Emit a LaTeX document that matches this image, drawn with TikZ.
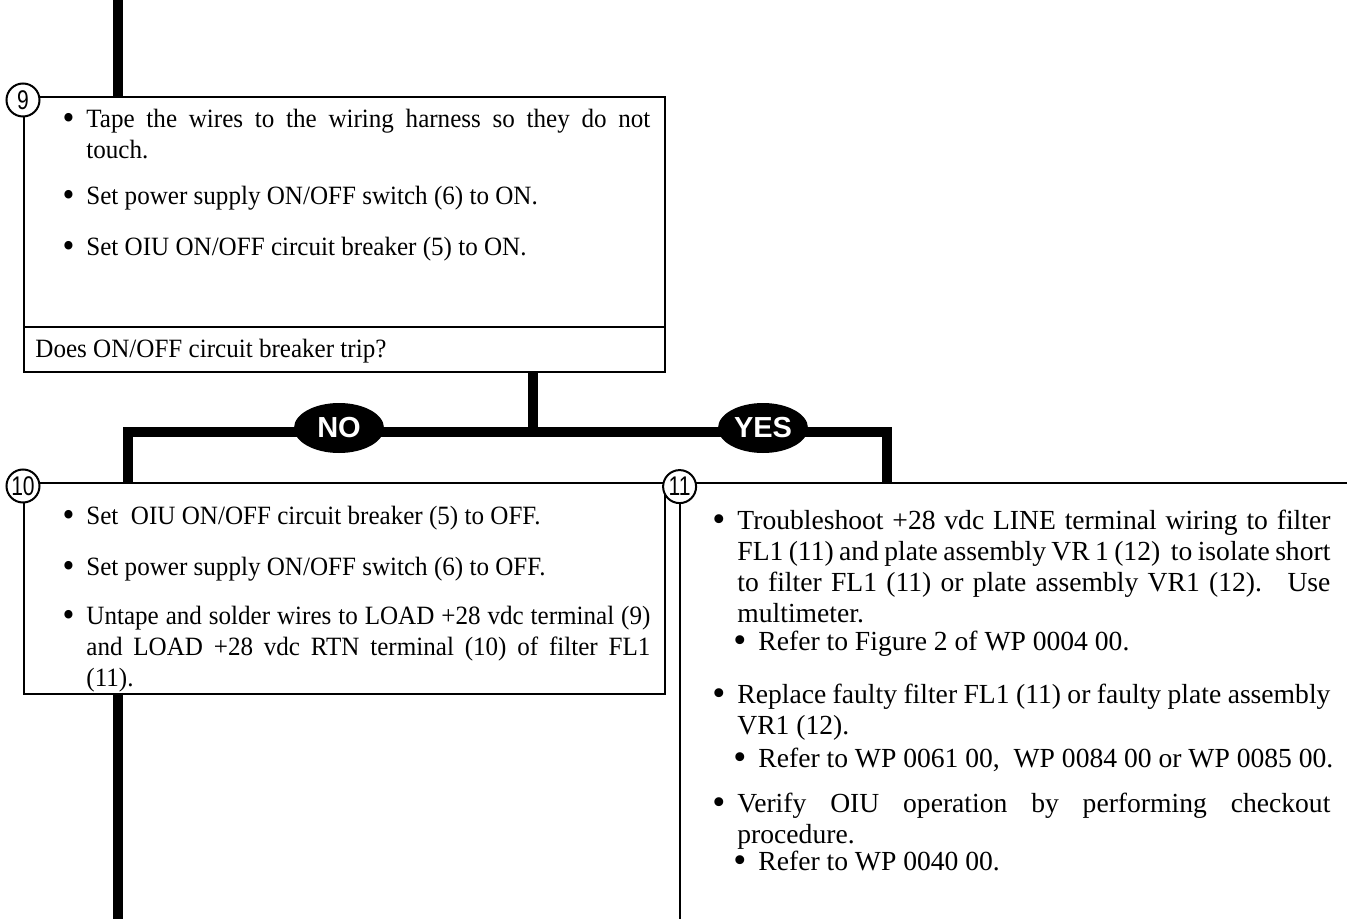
\documentclass[tikz,border=0pt]{standalone}
\usepackage{fontspec}
\setmainfont{Liberation Serif}[FakeStretch=0.95]
\newfontfamily\widefont{Liberation Serif}
\setsansfont{Liberation Sans}
\usetikzlibrary{shapes.geometric, fit}

\newcommand{\bul}{\strut\llap{\raisebox{-1.4pt}{\scalebox{1.35}{\textbullet}}\hspace{6pt}}}
\newcommand{\stepnum}[1]{\scalebox{0.78}[1]{#1}}

\begin{document}
\begin{tikzpicture}[
    x=0.5pt, y=-0.5pt,
    trunk/.style={line width=5pt},
    panel/.style={draw, line width=1pt, inner sep=0pt},
    stepno/.style={circle, draw, line width=1pt, fill=white, minimum size=16.5pt,
      inner sep=0pt, font=\sffamily\fontsize{13.5}{13.5}\selectfont},
    answer/.style={ellipse, fill=black, text=white, minimum width=45pt,
      minimum height=25pt, inner sep=0pt,
      font=\sffamily\bfseries\fontsize{14.5}{14.5}\selectfont},
    item/.style={anchor=north west, inner sep=0pt, text width=282pt,
      align=justify, font=\fontsize{13.2}{15.5}\selectfont},
    wideitem/.style={item, text width=296.5pt,
      font=\widefont\fontsize{13.8}{15.5}\selectfont},
  ]
  \useasboundingbox (0,0) rectangle (1347,919);

  % ---- panel frames ----
  \coordinate (b9nw) at (24,97);
  \coordinate (b9se) at (665,372);
  \node[panel, fit=(b9nw)(b9se)] (box9) {};
  \coordinate (sep9) at (0,327);
  \draw[line width=1pt] (box9.west |- sep9) -- (box9.east |- sep9);

  \coordinate (b10nw) at (24,483);
  \coordinate (b10se) at (665,694);
  \node[panel, fit=(b10nw)(b10se)] (box10) {};

  \coordinate (b11nw) at (680,483);
  \coordinate (b11se) at (1347,919);
  \node[inner sep=0pt, fit=(b11nw)(b11se)] (box11) {};
  \draw[line width=1pt] (box11.south west) -- (box11.north west) -- (box11.north east);

  % ---- flow lines ----
  \coordinate (top) at (118,0);
  \coordinate (bottom) at (118,919);
  \coordinate (fork) at (533,432);
  \coordinate (noend) at (128,432);
  \coordinate (yesend) at (887,432);
  \draw[trunk] (top) -- (top |- box9.north);
  \draw[trunk] (fork |- box9.south) -- (fork);
  \draw[trunk] (noend |- box10.north) -- (noend) -- (yesend) -- (yesend |- box11.north);
  \draw[trunk] (bottom |- box10.south) -- (bottom);

  \node[answer] (no) at (339,428) {NO};
  \node[answer] (yes) at (763,428) {YES};

  % ---- step numbers ----
  \node[stepno] (n9) at ([yshift=-2pt]box9.north west) {\stepnum{9}};
  \node[stepno] (n10) at ([yshift=-2pt]box10.north west) {\stepnum{10}};
  \node[stepno] (n11) at ([yshift=-2pt]box11.north west) {\stepnum{11}};

  % ---- step 9 ----
  \node[item] (t9a) at (86,105) {\bul Tape the wires to the wiring harness so they do not\linebreak touch.};
  \node[item] (t9b) at (86,182) {\bul Set power supply ON/OFF switch (6) to ON.};
  \node[item] (t9c) at (86,233) {\bul Set OIU ON/OFF circuit breaker (5) to ON.};
  \node[item] (q9) at (35,335) {\strut Does ON/OFF circuit breaker trip?};

  % ---- step 10 (NO) ----
  \node[item] (t10a) at (86,502) {\bul Set~ OIU ON/OFF circuit breaker (5) to OFF.};
  \node[item] (t10b) at (86,553) {\bul Set power supply ON/OFF switch (6) to OFF.};
  \node[item] (t10c) at (86,602) {\bul Untape and solder wires to LOAD +28 vdc terminal (9)\linebreak
    and LOAD +28 vdc RTN terminal (10) of filter FL1\linebreak (11).};

  % ---- step 11 (YES) ----
  \node[wideitem] (t11a) at (737,507) {\bul Troubleshoot +28 vdc LINE terminal wiring to filter\linebreak
    FL1 (11) and plate assembly VR 1 (12)~ to isolate short\linebreak
    to filter FL1 (11) or plate assembly VR1 (12).~ Use\linebreak multimeter.};
  \node[wideitem] (s11a) at (758,628) {\bul Refer to Figure 2 of WP 0004 00.};
  \node[wideitem] (t11b) at (737,681) {\bul Replace faulty filter FL1 (11) or faulty plate assembly\linebreak VR1 (12).};
  \node[wideitem] (s11b) at (758,745) {\bul Refer to WP 0061 00,~ WP 0084 00 or WP 0085 00.};
  \node[wideitem] (t11c) at (737,790) {\bul Verify OIU operation by performing checkout\linebreak procedure.};
  \node[wideitem] (s11c) at (758,848) {\bul Refer to WP 0040 00.};
\end{tikzpicture}
\end{document}
